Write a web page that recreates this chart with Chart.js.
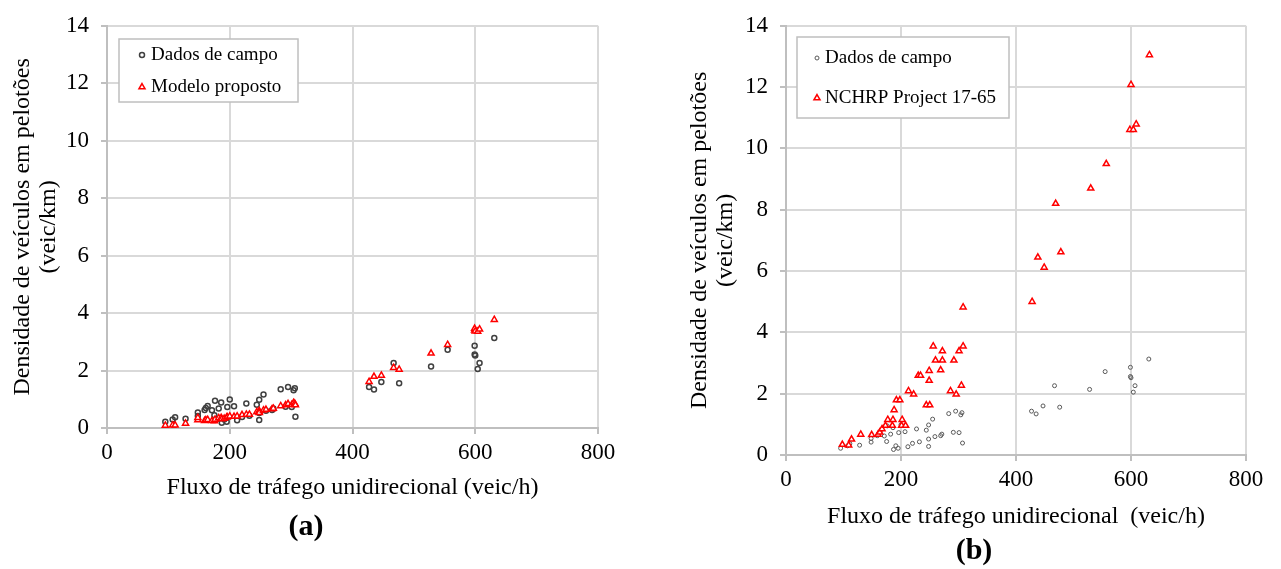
<!DOCTYPE html>
<html><head><meta charset="utf-8">
<script src="https://cdn.jsdelivr.net/npm/chart.js@4.4.1/dist/chart.umd.min.js"></script>
<style>
html,body{margin:0;padding:0;background:#fff;width:1281px;height:569px;overflow:hidden;}
.panel{position:absolute;top:0;}
canvas{display:block;}
.cap{position:absolute;font:bold 30px 'Liberation Serif',serif;line-height:30px;color:#000;transform:translate(-50%,-50%);white-space:nowrap;}
</style></head><body>
<div class="panel" style="left:0"><canvas id="ca" width="640" height="569"></canvas></div>
<div class="panel" style="left:640px"><canvas id="cb" width="641" height="569"></canvas></div>
<div class="cap" style="left:306px;top:525px">(a)</div>
<div class="cap" style="left:974px;top:549px">(b)</div>
<script>
// ---- data ----
const fieldFlow = [95,107,111,128,148,148,159,161,164,171,175,176,182,186,187,191,195,196,200,207,212,220,227,232,244,248,248,248,255,259,269,271,283,291,295,301,304,306,307,427,435,447,467,476,528,555,599,599,600,604,607,631];
const fieldDensity = [0.22,0.30,0.37,0.32,0.42,0.54,0.63,0.70,0.77,0.62,0.44,0.95,0.68,0.89,0.18,0.30,0.22,0.73,0.99,0.76,0.27,0.38,0.85,0.43,0.81,0.98,0.52,0.28,1.17,0.60,0.63,0.68,1.35,0.74,1.43,0.73,1.31,1.38,0.39,1.43,1.34,1.60,2.26,1.56,2.14,2.72,2.86,2.56,2.52,2.05,2.26,3.13];
const modelDensity = [0.09,0.10,0.10,0.16,0.28,0.36,0.25,0.28,0.29,0.25,0.24,0.30,0.35,0.36,0.31,0.33,0.37,0.38,0.41,0.40,0.41,0.46,0.47,0.47,0.56,0.60,0.56,0.53,0.62,0.64,0.66,0.68,0.77,0.80,0.84,0.81,0.88,0.85,0.80,1.61,1.79,1.83,2.10,2.04,2.60,2.90,3.40,3.46,3.37,3.36,3.44,3.77];
const nchrpFlow = [98,109,114,130,149,160,163,167,173,177,185,186,188,192,198,201,202,208,213,222,230,234,244,250,249,249,256,260,269,272,272,286,292,296,301,305,308,308,428,438,449,469,478,530,557,598,600,604,609,632];
const nchrpDensity = [0.34,0.32,0.51,0.67,0.66,0.67,0.74,0.85,0.96,1.15,0.96,1.15,1.47,1.79,1.79,0.96,1.15,0.96,2.09,1.98,2.59,2.59,1.63,1.63,2.75,2.43,3.55,3.09,2.77,3.39,3.09,2.09,3.09,1.98,3.39,2.27,3.55,4.82,5.00,6.45,6.12,8.20,6.62,8.70,9.50,10.61,12.08,10.61,10.79,13.05];
const xTicks = [0,200,400,600,800];
const yTicks = [0,2,4,6,8,10,12,14];
const xTitleA = 'Fluxo de tráfego unidirecional (veic/h)';
const xTitleB = 'Fluxo de tráfego unidirecional  (veic/h)';
const yTitle = ['Densidade de veículos em pelotões', '(veic/km)'];
const labelField = 'Dados de campo';
const labelModel = 'Modelo proposto';
const labelNchrp = 'NCHRP Project 17-65';

const FONT = "'Liberation Serif', 'Times New Roman', serif";
const GRID = '#d9d9d9', AXIS = '#bfbfbf';

function pts(xs, ys){ return xs.map((x,i)=>({x:x, y:ys[i]})); }

const boxLegend = {
  id: 'boxLegend',
  afterDraw(chart, args, o) {
    if (!o || !o.w) return;
    const ctx = chart.ctx;
    ctx.save();
    ctx.fillStyle = '#fff';
    ctx.fillRect(o.x, o.y, o.w, o.h);
    ctx.strokeStyle = AXIS; ctx.lineWidth = 1.5;
    ctx.strokeRect(o.x, o.y, o.w, o.h);
    chart.data.datasets.forEach((ds, i) => {
      const cy = o.rows[i], cx = o.markerX;
      ctx.lineWidth = ds.pointBorderWidth;
      ctx.strokeStyle = ds.pointBorderColor;
      ctx.fillStyle = ds.pointBackgroundColor;
      const r = ds.pointRadius;
      ctx.beginPath();
      if (ds.pointStyle === 'triangle') {
        let a = 0;
        ctx.moveTo(cx + Math.sin(a)*r, cy - Math.cos(a)*r);
        a += 2*Math.PI/3; ctx.lineTo(cx + Math.sin(a)*r, cy - Math.cos(a)*r);
        a += 2*Math.PI/3; ctx.lineTo(cx + Math.sin(a)*r, cy - Math.cos(a)*r);
        ctx.closePath();
      } else {
        ctx.arc(cx, cy, r, 0, Math.PI*2);
      }
      ctx.fill(); ctx.stroke();
      ctx.fillStyle = '#000';
      ctx.font = o.fontSize + 'px ' + FONT;
      ctx.textBaseline = 'middle';
      ctx.textAlign = 'left';
      ctx.fillText(ds.label, o.textX, cy);
    });
    ctx.restore();
  }
};

function makeChart(id, cfg) {
  return new Chart(document.getElementById(id), {
    type: 'scatter',
    data: { datasets: cfg.datasets },
    plugins: [boxLegend],
    options: {
      responsive: false,
      animation: false,
      events: [],
      layout: { padding: { left: 0, top: cfg.top, right: cfg.right, bottom: 0 } },
      plugins: { legend: { display: false }, tooltip: { enabled: false }, boxLegend: cfg.legend },
      scales: {
        x: {
          type: 'linear', min: 0, max: 800,
          afterBuildTicks: s => { s.ticks = xTicks.map(v => ({ value: v })); },
          afterFit: s => { s.height = cfg.xHeight; },
          grid: { color: GRID, lineWidth: 2, tickLength: 6, tickColor: AXIS, tickWidth: 2 },
          border: { color: AXIS, width: 2 },
          ticks: { color: '#000', font: { family: FONT, size: 23 }, padding: 5, maxRotation: 0 },
          title: { display: true, text: cfg.xTitle, color: '#000', font: { family: FONT, size: 24, lineHeight: 1.1 }, padding: { top: 0, bottom: cfg.xTitlePad } }
        },
        y: {
          type: 'linear', min: 0, max: 14,
          afterBuildTicks: s => { s.ticks = yTicks.map(v => ({ value: v })); },
          afterFit: s => { s.width = cfg.yWidth; },
          grid: { color: GRID, lineWidth: 2, tickLength: 6, tickColor: AXIS, tickWidth: 2 },
          border: { color: AXIS, width: 2 },
          ticks: { color: '#000', font: { family: FONT, size: 23 }, padding: 12 },
          title: { display: true, text: yTitle, color: '#000', font: { family: FONT, size: 24, lineHeight: 1.1 }, padding: { top: cfg.yTitlePad, bottom: 0 } }
        }
      }
    }
  });
}

makeChart('ca', {
  top: 18, right: 42, xHeight: 141, yWidth: 107, xTitle: xTitleA, xTitlePad: 67.8, yTitlePad: 9.5,
  legend: { x: 119, y: 39, w: 179, h: 63, markerX: 142, textX: 151, rows: [55, 87], fontSize: 19 },
  datasets: [
    { label: labelField, data: pts(fieldFlow, fieldDensity), pointStyle: 'circle', pointRadius: 2.5,
      pointBorderWidth: 1.5, pointBorderColor: '#404040', pointBackgroundColor: 'rgba(255,255,255,0)', order: 1 },
    { label: labelModel, data: pts(fieldFlow, modelDensity), pointStyle: 'triangle', pointRadius: 3.5,
      pointBorderWidth: 1.5, pointBorderColor: '#ff0000', pointBackgroundColor: '#ffffff', order: 0 }
  ]
});

makeChart('cb', {
  top: 19, right: 35, xHeight: 114, yWidth: 146, xTitle: xTitleB, xTitlePad: 38.8, yTitlePad: 46.5,
  legend: { x: 157, y: 37, w: 212, h: 81, markerX: 177, textX: 185, rows: [58, 98], fontSize: 19 },
  datasets: [
    { label: labelField, data: pts(fieldFlow, fieldDensity), pointStyle: 'circle', pointRadius: 2,
      pointBorderWidth: 1, pointBorderColor: '#595959', pointBackgroundColor: 'rgba(255,255,255,0)', order: 1 },
    { label: labelNchrp, data: pts(nchrpFlow, nchrpDensity), pointStyle: 'triangle', pointRadius: 3.5,
      pointBorderWidth: 1.5, pointBorderColor: '#ff0000', pointBackgroundColor: '#ffffff', order: 0 }
  ]
});
</script>
</body></html>
